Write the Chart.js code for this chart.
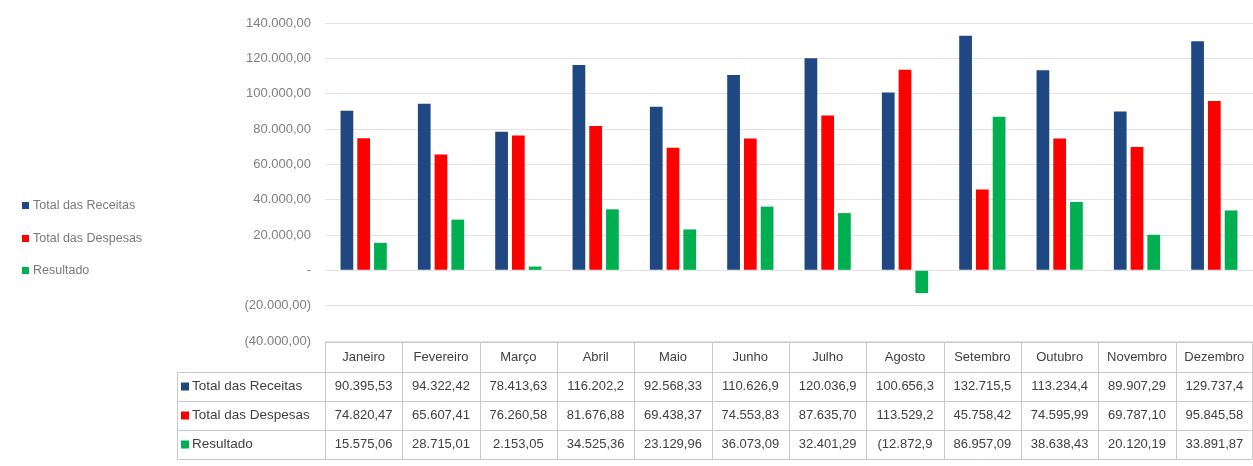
<!DOCTYPE html>
<html>
<head>
<meta charset="utf-8">
<script src="https://cdn.jsdelivr.net/npm/chart.js@4.4.1/dist/chart.umd.min.js"></script>
<style>
  body { margin: 0; background: #fff; }
  #wrap { width: 1253px; height: 466px; }
</style>
</head>
<body>
<div id="wrap"><canvas id="grafico"></canvas></div>
<script>
var meses = ['Janeiro', 'Fevereiro', 'Março', 'Abril', 'Maio', 'Junho', 'Julho', 'Agosto', 'Setembro', 'Outubro', 'Novembro', 'Dezembro'];
var receitas = [90395.53, 94322.42, 78413.63, 116202.2, 92568.33, 110626.9, 120036.9, 100656.3, 132715.5, 113234.4, 89907.29, 129737.4];
var despesas = [74820.47, 65607.41, 76260.58, 81676.88, 69438.37, 74553.83, 87635.70, 113529.29, 45758.42, 74595.99, 69787.10, 95845.58];
var resultado = [15575.06, 28715.01, 2153.05, 34525.36, 23129.96, 36073.09, 32401.29, -12872.9, 86957.09, 38638.43, 20120.19, 33891.87];

var FONTE = "'Liberation Sans', Arial, sans-serif";

function fmt(v) {
	var neg = v < 0;
	var s = Math.abs(v).toFixed(2).split('.');
	var inteiro = s[0].replace(/\B(?=(\d{3})+(?!\d))/g, '.');
	var txt = inteiro + ',' + s[1];
	return neg ? '(' + txt + ')' : txt;
}

// tabela de dados + legenda desenhadas por baixo do grafico (estilo Excel)
var tabela = {
	id: 'tabela',
	afterDraw: function(chart) {
		var ctx = chart.ctx;
		var x = chart.scales.x;
		var area = chart.chartArea;
		var larg = (area.right - area.left) / meses.length;
		var topo = area.bottom + 1;
		var linhas = [topo, topo + 30, topo + 59, topo + 88, topo + 117];
		var esq = 177;

		ctx.save();
		ctx.strokeStyle = '#c8c8c8';
		ctx.lineWidth = 1;
		ctx.beginPath();
		// linhas horizontais
		ctx.moveTo(area.left, linhas[0] + 0.5); ctx.lineTo(area.right - 0.5, linhas[0] + 0.5);
		for (var r = 1; r < linhas.length; r++) {
			ctx.moveTo(esq, linhas[r] + 0.5); ctx.lineTo(area.right - 0.5, linhas[r] + 0.5);
		}
		// linhas verticais
		for (var c = 0; c <= meses.length; c++) {
			var px = Math.round(area.left + c * larg) + 0.5;
			if (c == meses.length) px = area.right - 0.5;
			ctx.moveTo(px, linhas[0]); ctx.lineTo(px, linhas[4]);
		}
		ctx.moveTo(esq + 0.5, linhas[1]); ctx.lineTo(esq + 0.5, linhas[4]);
		ctx.stroke();

		ctx.font = '13px ' + FONTE;
		ctx.fillStyle = '#404040';
		ctx.textAlign = 'center';
		ctx.textBaseline = 'middle';
		for (var i = 0; i < meses.length; i++) {
			var cx = x.getPixelForValue(i);
			ctx.fillText(meses[i], cx, (linhas[0] + linhas[1]) / 2);
			chart.data.datasets.forEach(function(ds, k) {
				var t = fmt(ds.data[i]).substring(0, 9);
				ctx.fillText(t, cx, (linhas[k + 1] + linhas[k + 2]) / 2);
			});
		}
		ctx.textAlign = 'left';
		ctx.font = '13.5px ' + FONTE;
		chart.data.datasets.forEach(function(ds, k) {
			var cy = (linhas[k + 1] + linhas[k + 2]) / 2;
			ctx.fillStyle = ds.backgroundColor;
			ctx.fillRect(181, cy - 4, 8, 8);
			ctx.fillStyle = '#404040';
			ctx.fillText(ds.label, 192, cy);
		});

		// legenda a esquerda
		ctx.font = '12.5px ' + FONTE;
		var ys = [206, 239, 271];
		chart.data.datasets.forEach(function(ds, k) {
			ctx.fillStyle = ds.backgroundColor;
			ctx.fillRect(22, ys[k] - 4, 7, 7);
			ctx.fillStyle = '#7a7a7a';
			ctx.fillText(ds.label, 33, ys[k]);
		});
		ctx.restore();
	}
};

var ctx = document.getElementById('grafico');
var grafico = new Chart(ctx, {
	type: 'bar',
	data: {
		labels: meses,
		datasets: [
			{ label: 'Total das Receitas', data: receitas, backgroundColor: '#1f4782' },
			{ label: 'Total das Despesas', data: despesas, backgroundColor: '#ff0000' },
			{ label: 'Resultado', data: resultado, backgroundColor: '#00b050' }
		]
	},
	options: {
		responsive: true,
		maintainAspectRatio: false,
		animation: false,
		layout: { padding: { top: 23, right: 0, bottom: 125, left: 0 } },
		datasets: { bar: { categoryPercentage: 0.65, barPercentage: 0.76 } },
		plugins: {
			legend: { display: false },
			tooltip: { enabled: false }
		},
		scales: {
			x: { display: false },
			y: {
				min: -40000,
				max: 140000,
				ticks: {
					stepSize: 20000,
					padding: 14,
					color: '#7f7f7f',
					font: { family: FONTE, size: 13 },
					callback: function(v) { return v === 0 ? '-' : fmt(v); }
				},
				grid: { color: '#e3e3e3', drawTicks: false },
				border: { display: false },
				afterFit: function(scale) { scale.width = 325; }
			}
		}
	},
	plugins: [tabela]
});
</script>
</body>
</html>
